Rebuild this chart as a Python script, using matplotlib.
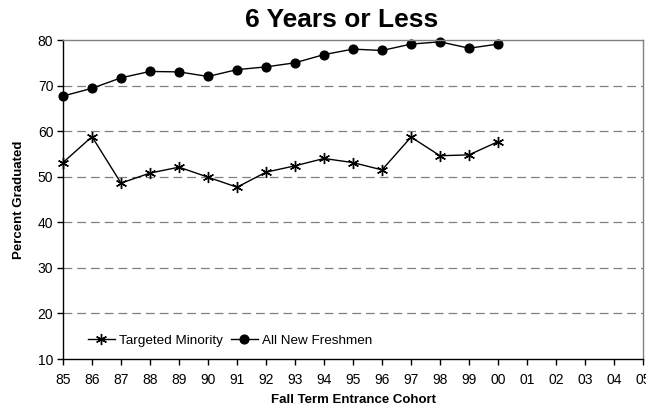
import matplotlib
matplotlib.use("Agg")
import matplotlib.pyplot as plt

plt.rcParams['font.family'] = ['Liberation Sans', 'DejaVu Sans']

tick_labels = ["85", "86", "87", "88", "89", "90", "91", "92", "93", "94",
               "95", "96", "97", "98", "99", "00", "01", "02", "03", "04", "05"]
targeted_minority = [53.1, 58.8, 48.6, 50.8, 52.1, 49.9, 47.7, 51.0, 52.4, 54.0,
                     53.1, 51.5, 58.7, 54.6, 54.8, 57.7]
all_new_freshmen = [67.7, 69.4, 71.7, 73.1, 73.0, 72.0, 73.5, 74.1, 75.0, 76.8,
                    78.0, 77.7, 79.1, 79.6, 78.2, 79.1]

fig = plt.figure(figsize=(6.46, 4.09), dpi=100)
ax = fig.add_axes([0.0975, 0.1222, 0.898, 0.780])

x_tm = list(range(len(targeted_minority)))
x_af = list(range(len(all_new_freshmen)))
ax.plot(x_tm, targeted_minority, color='black', lw=1.0, marker=(6, 2, 0),
        markersize=8, markeredgewidth=1.0, label='Targeted Minority', clip_on=False)
ax.plot(x_af, all_new_freshmen, color='black', lw=1.0, marker='o',
        markersize=6.3, label='All New Freshmen', clip_on=False)

ax.set_xlim(0, len(tick_labels) - 1)
ax.set_ylim(10, 80)
ax.set_xticks(range(len(tick_labels)))
ax.set_xticklabels(tick_labels)
ax.set_yticks(range(10, 81, 10))

for y in range(20, 80, 10):
    ax.axhline(y, color='#808080', lw=0.9, ls=(0, (7, 4)), zorder=0)

for side in ('top', 'right'):
    ax.spines[side].set_color('#808080')
    ax.spines[side].set_linewidth(1.0)
for side in ('left', 'bottom'):
    ax.spines[side].set_color('black')
    ax.spines[side].set_linewidth(1.0)

ax.tick_params(axis='both', labelsize=10, length=4, width=1.0, direction='out')
ax.tick_params(axis='x', pad=6)
ax.tick_params(axis='y', pad=3)

ax.set_xlabel('Fall Term Entrance Cohort', fontsize=9.5, fontweight='bold', labelpad=5)
ax.set_ylabel('Percent Graduated', fontsize=9.5, fontweight='bold', labelpad=9)

fig.text(0.529, 0.951, '6 Years or Less', fontsize=19, fontweight='bold',
         ha='center', va='center')

ax.legend(loc='lower left', bbox_to_anchor=(0.022, 0.0), ncol=2, frameon=False,
          fontsize=9.7, handlelength=2.0, handletextpad=0.3, columnspacing=0.6,
          borderaxespad=0.5)

fig.savefig('out.png', dpi=100)
